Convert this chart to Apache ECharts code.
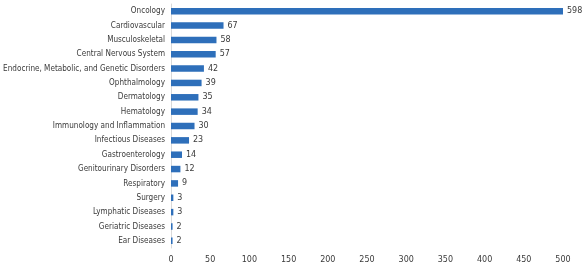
<!DOCTYPE html>
<html><head><meta charset="utf-8">
<script src="https://cdn.jsdelivr.net/npm/echarts@6/dist/echarts.min.js"></script>
<style>html,body{margin:0;padding:0;background:#fff}#c{width:584px;height:276px}</style>
</head><body><div id="c"></div>
<script>
const categories = ["Oncology","Cardiovascular","Musculoskeletal","Central Nervous System","Endocrine, Metabolic, and Genetic Disorders","Ophthalmology","Dermatology","Hematology","Immunology and Inflammation","Infectious Diseases","Gastroenterology","Genitourinary Disorders","Respiratory","Surgery","Lymphatic Diseases","Geriatric Diseases","Ear Diseases"];
const values = [598,67,58,57,42,39,35,34,30,23,14,12,9,3,3,2,2];
const xTicks = [0,50,100,150,200,250,300,350,400,450,500];
const CAT_FONT = "'DejaVu Sans Condensed', 'DejaVu Sans'";
const NUM_FONT = "'DejaVu Sans'";
const chart = echarts.init(document.getElementById('c'));
chart.setOption({
  animation:false,
  grid:{left:171,right:21,top:4,bottom:28,containLabel:false,outerBoundsMode:'none'},
  xAxis:{type:'value',min:xTicks[0],max:xTicks[xTicks.length-1],interval:50,
    axisLine:{show:false},axisTick:{show:false},splitLine:{show:false},
    axisLabel:{color:'#3a3a3a',fontFamily:NUM_FONT,fontSize:8,margin:8}},
  yAxis:{type:'category',data:categories,inverse:true,
    axisLine:{show:true,lineStyle:{color:'#d9d9d9',width:1}},axisTick:{show:false},
    axisLabel:{color:'#3a3a3a',fontFamily:CAT_FONT,fontSize:8.1,margin:6}},
  series:[{type:'bar',data:values,barWidth:6.5,clip:true,
    itemStyle:{color:'#2e6fba'},
    label:{show:true,position:'right',distance:4,color:'#3a3a3a',fontFamily:NUM_FONT,fontSize:8}}]
});
</script></body></html>
